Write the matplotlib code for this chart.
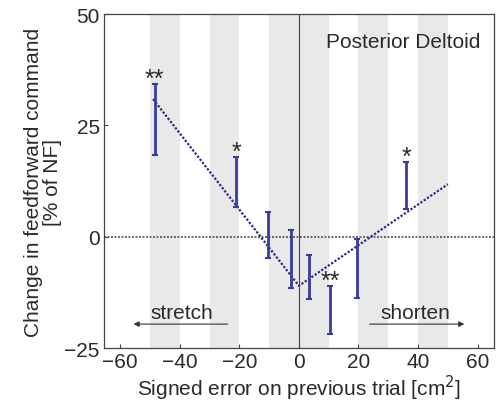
import matplotlib.pyplot as plt

plt.rcParams['font.family'] = ['Liberation Sans', 'DejaVu Sans']

# binned signed error (cm^2) and change in feedforward command (% of NF)
err_x = [-48.5, -21, -10.5, -2.5, 3.5, 10.5, 19.5, 36]
err_mean = [26.3, 12.3, 0.4, -5.0, -9.0, -16.5, -7.2, 11.5]
err_sem = [8.0, 5.6, 5.2, 6.5, 4.9, 5.4, 6.6, 5.2]
stars = ['**', '*', '', '', '', '**', '', '*']

# piecewise linear fit
fit_x = [-49, 0, 50]
fit_y = [30.9, -11.0, 11.8]

# shaded bins
bands = [(-50, -40), (-30, -20), (-10, 10), (20, 30), (40, 50)]

FS = 15
TXT = '#2a2a2a'

fig = plt.figure(figsize=(5.02, 4.06), dpi=100)
ax = fig.add_axes([0.207, 0.140, 0.777, 0.823])

for a, b in bands:
    ax.axvspan(a, b, color='#e9e9e9', lw=0, zorder=0)

ax.axhline(0, color='#666666', lw=1.4, ls=(0, (1, 0.8)), zorder=1)
ax.axvline(0, color='#444444', lw=0.8, zorder=1)

ax.plot(fit_x, fit_y, color='#2a2a80', lw=1.6, ls=(0, (1, 0.8)), zorder=2)
ax.errorbar(err_x, err_mean, yerr=err_sem, fmt='none', ecolor='#3b3b9c',
            elinewidth=2, capsize=2.5, capthick=1.5, zorder=3)

for x, m, s, st in zip(err_x, err_mean, err_sem, stars):
    if st:
        ax.text(x, m + s - 0.4, st, ha='center', va='baseline', fontsize=18, color=TXT)

ax.text(0.965, 0.918, 'Posterior Deltoid', transform=ax.transAxes,
        ha='right', va='center', fontsize=FS, color=TXT)

ax.text(-39.3, -18.3, 'stretch', ha='center', va='baseline', fontsize=FS, color=TXT)
ax.annotate('', xy=(-56.5, -19.6), xytext=(-23, -19.6),
            arrowprops=dict(arrowstyle='-|>', color='#333333', lw=0.8, mutation_scale=8))
ax.text(39, -18.3, 'shorten', ha='center', va='baseline', fontsize=FS, color=TXT)
ax.annotate('', xy=(56.5, -19.6), xytext=(22.8, -19.6),
            arrowprops=dict(arrowstyle='-|>', color='#333333', lw=0.8, mutation_scale=8))

ax.set_xlim(-65.5, 65.5)
ax.set_ylim(-25, 50)
ax.set_xticks([-60, -40, -20, 0, 20, 40, 60])
ax.set_yticks([-25, 0, 25, 50])
ax.tick_params(direction='in', length=3, labelsize=FS, colors='#444444',
               labelcolor=TXT, pad=3)
for sp in ax.spines.values():
    sp.set_color('#444444')
    sp.set_linewidth(0.9)

ax.set_xlabel('Signed error on previous trial [cm$^2$]', fontsize=FS, color=TXT, labelpad=1)
ax.set_ylabel('Change in feedforward command\n[% of NF]', fontsize=FS, color=TXT,
              labelpad=2, linespacing=0.95)

fig.savefig('out.png', dpi=100)
